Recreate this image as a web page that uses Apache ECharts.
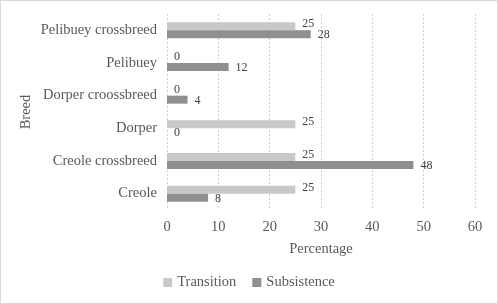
<!DOCTYPE html>
<html>
<head>
<meta charset="utf-8">
<script src="https://cdn.jsdelivr.net/npm/echarts@6/dist/echarts.min.js"></script>
<style>
html,body{margin:0;padding:0;background:#fff;}
#c{width:496px;height:302px;border:1px solid #d9d9d9;}
</style>
</head>
<body>
<div id="c"></div>
<script>
var categories = ['Creole', 'Creole crossbreed', 'Dorper', 'Dorper croossbreed', 'Pelibuey', 'Pelibuey crossbreed'];
var transition = [25, 25, 25, 0, 0, 25];
var subsistence = [8, 48, 0, 4, 12, 28];
var xTicks = [0, 10, 20, 30, 40, 50, 60];

var font = 'Liberation Serif';
var chart = echarts.init(document.getElementById('c'));
chart.setOption({
  animation: false,
  textStyle: {fontFamily: font},
  grid: {left: 166, right: 22, top: 13, bottom: 93, containLabel: false},
  legend: {
    data: ['Transition', 'Subsistence'],
    bottom: 8,
    left: 'center',
    itemWidth: 9,
    itemHeight: 9,
    itemGap: 16,
    icon: 'rect',
    textStyle: {fontFamily: font, fontSize: 14.5, color: '#595959'}
  },
  xAxis: {
    type: 'value',
    min: xTicks[0],
    max: xTicks[xTicks.length - 1],
    interval: 10,
    name: 'Percentage',
    nameLocation: 'middle',
    nameGap: 32,
    nameTextStyle: {fontFamily: font, fontSize: 14.5, color: '#595959'},
    axisLine: {show: false},
    axisTick: {show: false},
    axisLabel: {fontFamily: font, fontSize: 14.5, color: '#595959', margin: 10},
    splitLine: {show: true, lineStyle: {color: '#d0d0d0', type: [2, 2]}}
  },
  yAxis: {
    type: 'category',
    data: categories,
    name: 'Breed',
    nameLocation: 'middle',
    nameGap: 133,
    nameMoveOverlap: false,
    nameRotate: 90,
    nameTextStyle: {fontFamily: font, fontSize: 14.5, color: '#595959'},
    axisLine: {show: false},
    axisTick: {show: false},
    axisLabel: {fontFamily: font, fontSize: 14.5, color: '#595959', margin: 10}
  },
  series: [
    {
      name: 'Transition',
      type: 'bar',
      data: transition,
      barWidth: 8,
      barGap: '0%',
      itemStyle: {color: '#c8c8c8'},
      label: {show: true, position: 'right', distance: 7, offset: [0, -2], fontFamily: font, fontSize: 12, color: '#404040'}
    },
    {
      name: 'Subsistence',
      type: 'bar',
      data: subsistence,
      barWidth: 8,
      barGap: '0%',
      itemStyle: {color: '#8f8f8f'},
      label: {show: true, position: 'right', distance: 7, offset: [0, 1], fontFamily: font, fontSize: 12, color: '#404040'}
    }
  ]
});
</script>
</body>
</html>
